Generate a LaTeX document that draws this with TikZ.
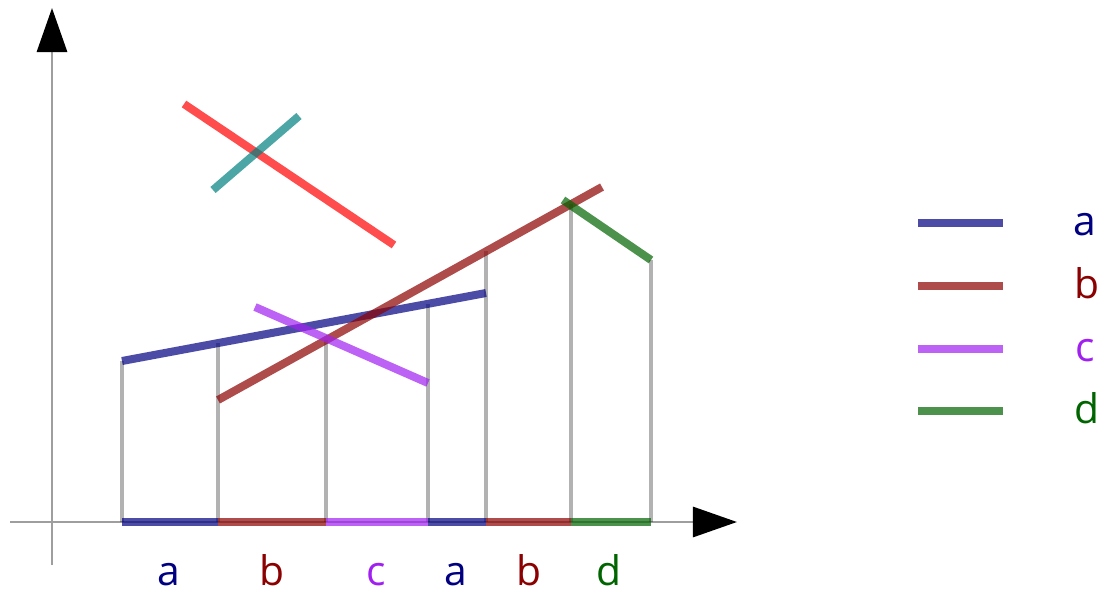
\documentclass[tikz,border=0pt]{standalone}
\usepackage{fontspec}
\setmainfont{Open Sans}
\usepackage{xcolor}
\usetikzlibrary{arrows.meta}

\definecolor{envA}{RGB}{0,0,128}
\definecolor{envB}{RGB}{139,0,0}
\definecolor{envC}{RGB}{160,32,240}
\definecolor{envD}{RGB}{0,100,0}

\begin{document}
\begin{tikzpicture}[
    x=0.025cm, y=-0.025cm,
    sumbu/.style={black!38, line width=2.1pt,
                  -{Triangle[length=1.1cm, width=0.75cm, color=black]}},
    garis/.style={line width=5.7pt, opacity=0.7},
    tegak/.style={black, opacity=0.3, line width=2.3pt},
    huruf/.style={anchor=base, inner sep=0pt, font=\fontsize{29}{35}\selectfont}
  ]
    \useasboundingbox (0,0) rectangle (1100,592);

    % sumbu
    \coordinate (o1) at (52,565);
    \coordinate (o2) at (52,8);
    \coordinate (o3) at (10,522);
    \coordinate (o4) at (737,522);
    \draw[sumbu] (o1) -- (o2);
    \draw[sumbu] (o3) -- (o4);

    % garis tegak ke amplop
    \coordinate (x1) at (122,522); \coordinate (y1) at (122,361);
    \coordinate (x2) at (218,522); \coordinate (y2) at (218,343);
    \coordinate (x3) at (326,522); \coordinate (y3) at (326,340);
    \coordinate (x4) at (428,522); \coordinate (y4) at (428,304);
    \coordinate (x5) at (486,522); \coordinate (y5) at (486,251);
    \coordinate (x6) at (571,522); \coordinate (y6) at (571,204);
    \coordinate (x7) at (651,522); \coordinate (y7) at (651,260);
    \draw[tegak] (x1) -- (y1);
    \draw[tegak] (x2) -- (y2);
    \draw[tegak] (x3) -- (y3);
    \draw[tegak] (x4) -- (y4);
    \draw[tegak] (x5) -- (y5);
    \draw[tegak] (x6) -- (y6);
    \draw[tegak] (x7) -- (y7);

    % ruas garis
    \coordinate (a1) at (122,361); \coordinate (a2) at (486,293);
    \coordinate (b1) at (218,400); \coordinate (b2) at (602,187);
    \coordinate (c1) at (255,307); \coordinate (c2) at (428,383);
    \coordinate (d1) at (563,200); \coordinate (d2) at (651,260);
    \coordinate (e1) at (184,104); \coordinate (e2) at (394,245);
    \coordinate (f1) at (213,190); \coordinate (f2) at (299,116);
    \draw[garis, red] (e1) -- (e2);
    \draw[garis, teal] (f1) -- (f2);
    \draw[garis, envA] (a1) -- (a2);
    \draw[garis, envB] (b1) -- (b2);
    \draw[garis, envC] (c1) -- (c2);
    \draw[garis, envD] (d1) -- (d2);

    % amplop di sumbu x
    \draw[garis, envA] (x1) -- (x2);
    \draw[garis, envB] (x2) -- (x3);
    \draw[garis, envC] (x3) -- (x4);
    \draw[garis, envA] (x4) -- (x5);
    \draw[garis, envB] (x5) -- (x6);
    \draw[garis, envD] (x6) -- (x7);

    \node[huruf, text=envA] (la1) at (169,585) {a};
    \node[huruf, text=envB] (lb1) at (272,585) {b};
    \node[huruf, text=envC] (lc1) at (376,585) {c};
    \node[huruf, text=envA] (la2) at (456,585) {a};
    \node[huruf, text=envB] (lb2) at (529,585) {b};
    \node[huruf, text=envD] (ld1) at (609,585) {d};

    % legenda
    \coordinate (ka1) at (918,223); \coordinate (ka2) at (1003,223);
    \coordinate (kb1) at (918,286); \coordinate (kb2) at (1003,286);
    \coordinate (kc1) at (918,349); \coordinate (kc2) at (1003,349);
    \coordinate (kd1) at (918,411); \coordinate (kd2) at (1003,411);
    \draw[garis, envA] (ka1) -- (ka2);
    \draw[garis, envB] (kb1) -- (kb2);
    \draw[garis, envC] (kc1) -- (kc2);
    \draw[garis, envD] (kd1) -- (kd2);
    \node[huruf, text=envA] (ta) at (1085,235) {a};
    \node[huruf, text=envB] (tb) at (1087,298) {b};
    \node[huruf, text=envC] (tc) at (1085,361) {c};
    \node[huruf, text=envD] (td) at (1087,423) {d};
  \end{tikzpicture}
\end{document}
